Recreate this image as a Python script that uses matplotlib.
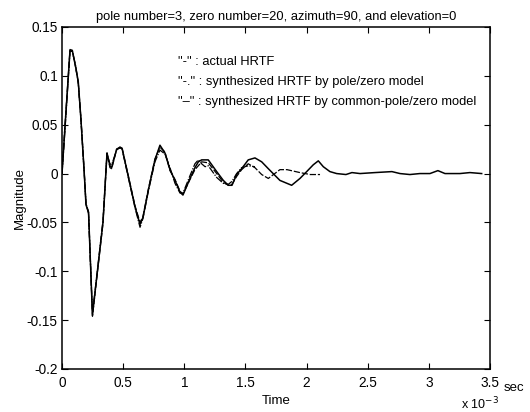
import matplotlib
matplotlib.use("Agg")
import matplotlib.pyplot as plt

plt.rcParams['font.family'] = ['Liberation Sans', 'DejaVu Sans']

# time in ms (axis shown as x 10^-3 sec)
t_actual = [0, 0.0245, 0.0654, 0.0842, 0.112, 0.133, 0.155, 0.182, 0.196, 0.217,
            0.249, 0.294, 0.335, 0.368, 0.392, 0.406, 0.447, 0.474, 0.491, 0.542,
            0.597, 0.638, 0.662, 0.706, 0.760, 0.801, 0.842, 0.883, 0.924, 0.965,
            0.989, 1.047, 1.087, 1.115, 1.142, 1.196, 1.265, 1.319, 1.360, 1.390,
            1.428, 1.469, 1.523, 1.578, 1.633, 1.687, 1.782, 1.878, 1.946, 2.001,
            2.055, 2.096, 2.137, 2.191, 2.246, 2.322, 2.371, 2.437, 2.559, 2.698,
            2.764, 2.845, 2.927, 3.009, 3.074, 3.132, 3.254, 3.336, 3.432]
y_actual = [0, 0.048, 0.126, 0.126, 0.109, 0.094, 0.055, 0.0, -0.032, -0.040,
            -0.145, -0.095, -0.050, 0.021, 0.008, 0.006, 0.025, 0.027, 0.026, -0.003,
            -0.034, -0.052, -0.045, -0.017, 0.014, 0.029, 0.021, 0.004, -0.007, -0.019,
            -0.022, -0.005, 0.006, 0.012, 0.014, 0.014, 0.002, -0.007, -0.012, -0.012,
            -0.001, 0.005, 0.014, 0.016, 0.012, 0.005, -0.007, -0.012, -0.005, 0.002,
            0.009, 0.013, 0.007, 0.002, 0.0, -0.001, 0.001, 0.0, 0.001, 0.002,
            0.0, -0.001, 0.0, 0.0, 0.003, 0.0, 0.0, 0.001, 0.0]

t_pz = [0, 0.0245, 0.0654, 0.0842, 0.112, 0.133, 0.155, 0.182, 0.196, 0.217,
        0.249, 0.294, 0.335, 0.368, 0.392, 0.406, 0.447, 0.474, 0.491, 0.542,
        0.597, 0.638, 0.662, 0.706, 0.760, 0.801, 0.842, 0.883, 0.924, 0.965,
        0.989, 1.047, 1.087, 1.115, 1.142, 1.170, 1.196, 1.265, 1.319, 1.360,
        1.390, 1.428, 1.469, 1.523, 1.578]
y_pz = [0, 0.045, 0.125, 0.125, 0.110, 0.092, 0.055, 0.0, -0.030, -0.041,
        -0.143, -0.094, -0.048, 0.020, 0.010, 0.009, 0.024, 0.027, 0.025, -0.004,
        -0.035, -0.055, -0.046, -0.018, 0.012, 0.024, 0.020, 0.006, -0.010, -0.020,
        -0.020, -0.002, 0.010, 0.014, 0.010, 0.007, 0.008, -0.004, -0.010, -0.011,
        -0.008, 0.000, 0.006, 0.008, 0.007]

t_cpz = [0, 0.0245, 0.0654, 0.0842, 0.112, 0.133, 0.155, 0.182, 0.196, 0.217,
         0.249, 0.294, 0.335, 0.368, 0.392, 0.406, 0.447, 0.474, 0.491, 0.542,
         0.597, 0.638, 0.662, 0.706, 0.760, 0.801, 0.842, 0.883, 0.924, 0.965,
         0.989, 1.047, 1.087, 1.115, 1.142, 1.196, 1.265, 1.319, 1.360, 1.390,
         1.428, 1.469, 1.523, 1.578, 1.633, 1.687, 1.740, 1.782, 1.840, 1.946,
         2.030, 2.110]
y_cpz = [0, 0.050, 0.127, 0.126, 0.108, 0.093, 0.056, 0.001, -0.031, -0.039,
         -0.146, -0.096, -0.051, 0.021, 0.006, 0.005, 0.025, 0.026, 0.026, -0.002,
         -0.033, -0.050, -0.044, -0.016, 0.015, 0.027, 0.022, 0.003, -0.006, -0.018,
         -0.021, -0.006, 0.004, 0.008, 0.012, 0.011, 0.000, -0.009, -0.012, -0.011,
         -0.003, 0.004, 0.010, 0.006, -0.001, -0.005, 0.000, 0.004, 0.004, 0.001,
         -0.001, -0.001]

title = "pole number=3, zero number=20, azimuth=90, and elevation=0"
legend_lines = ['"-" : actual HRTF',
                '"-." : synthesized HRTF by pole/zero model',
                '"\u2013" : synthesized HRTF by common-pole/zero model']
xticks = [0, 0.5, 1, 1.5, 2, 2.5, 3, 3.5]
xticklabels = ['0', '0.5', '1', '1.5', '2', '2.5', '3', '3.5']
yticks = [-0.2, -0.15, -0.1, -0.05, 0, 0.05, 0.1, 0.15]
yticklabels = ['-0.2', '-0.15', '-0.1', '-0.05', '0', '0.05', '0.1', '0.15']

fig = plt.figure(figsize=(5.3, 4.12), dpi=100)
ax = fig.add_axes([0.117, 0.1044, 0.8075, 0.8301])

ax.plot(t_actual, y_actual, color='black', lw=1.1, ls='-')
ax.plot(t_pz, y_pz, color='black', lw=0.9, ls=(0, (6, 1.2, 1, 1.2)))
ax.plot(t_cpz, y_cpz, color='black', lw=0.9, ls=(0, (5, 1.5)))

ax.set_xlim(0, 3.5)
ax.set_ylim(-0.2, 0.15)
ax.set_xticks(xticks)
ax.set_xticklabels(xticklabels)
ax.set_yticks(yticks)
ax.set_yticklabels(yticklabels)
ax.tick_params(direction='in', top=True, right=True, length=4, width=0.8,
               labelsize=9.8, colors='black')
ax.tick_params(axis='x', pad=5)
ax.tick_params(axis='y', pad=3)
for s in ax.spines.values():
    s.set_linewidth(1.1)
    s.set_color('black')

ax.set_title(title, fontsize=9.3, pad=5)
ax.set_xlabel('Time', fontsize=9.5, labelpad=4)
ax.set_ylabel('Magnitude', fontsize=9.5, labelpad=1)

for i, txt in enumerate(legend_lines):
    fig.text(178 / 530, 1 - (62 + 19.8 * i) / 412, txt, fontsize=9.3,
             ha='left', va='center')

fig.text(504 / 530, 1 - 388 / 412, 'sec', fontsize=9.5, ha='left', va='center')
fig.text(461 / 530, 1 - 404 / 412, 'x 10$^{-3}$', fontsize=9, ha='left', va='center')

fig.savefig('out.png', dpi=100)
